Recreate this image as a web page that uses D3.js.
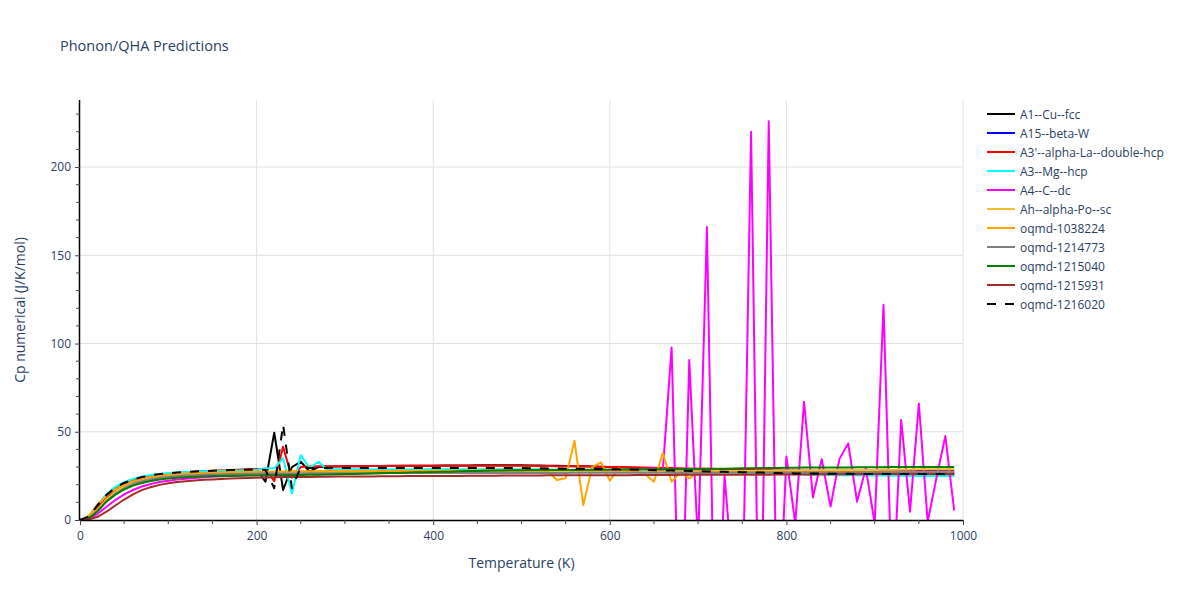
<!DOCTYPE html>
<html><head><meta charset="utf-8">
<script src="https://cdn.jsdelivr.net/npm/d3@7/dist/d3.min.js"></script>
<style>body{margin:0;background:#fff}svg{display:block}text{font-family:"Open Sans",verdana,arial,sans-serif}</style>
</head><body><svg id="c" width="1200" height="600"></svg>
<script>
const temperatures = d3.range(0, 1000, 10);
const seriesNames = ["A1--Cu--fcc","A15--beta-W","A3'--alpha-La--double-hcp","A3--Mg--hcp","A4--C--dc","Ah--alpha-Po--sc","oqmd-1038224","oqmd-1214773","oqmd-1215040","oqmd-1215931","oqmd-1216020"];
const xTicks = [0,200,400,600,800,1000];
const yTicks = [0,50,100,150,200];

const cpA1 = [0,1.6,7.2,13.3,17.6,20.4,22.3,23.7,24.7,25.4,
26.0,26.5,26.9,27.2,27.5,27.7,27.9,28.1,28.3,28.5,
28.7,21.7,49.5,17.0,30.0,33.0,27.4,30.0,30.2,30.3,
30.4,30.5,30.5,30.6,30.6,30.7,30.7,30.7,30.8,30.8,
30.8,30.9,30.9,30.9,30.9,31.0,31.0,31.0,31.0,31.0,
31.0,30.9,30.9,30.8,30.7,30.6,30.5,30.4,30.3,30.2,
30.0,29.9,29.7,29.6,29.4,29.3,29.2,29.0,28.9,28.8,
28.6,28.5,28.4,28.3,28.1,28.0,27.9,27.8,27.6,27.5,
27.4,27.3,27.2,27.1,27.0,27.0,26.9,26.8,26.8,26.7,
26.7,26.6,26.6,26.5,26.5,26.5,26.4,26.4,26.4,26.3];
const cpA15 = [0,1.2,5.6,11.0,15.3,18.3,20.5,22.0,23.1,23.9,
24.5,25.0,25.3,25.6,25.8,26.0,26.1,26.2,26.3,26.4,
26.4,26.5,26.5,26.6,26.6,26.7,26.7,26.7,26.8,26.8,
26.8,26.8,26.8,26.9,26.9,26.9,26.9,26.9,27.0,27.0,
27.0,27.0,27.0,27.0,27.1,27.1,27.1,27.1,27.1,27.2,
27.2,27.2,27.2,27.2,27.2,27.2,27.3,27.3,27.3,27.3,
27.3,27.3,27.3,27.3,27.3,27.4,27.4,27.4,27.4,27.4,
27.4,27.4,27.4,27.4,27.5,27.5,27.5,27.5,27.5,27.5,
27.5,27.5,27.5,27.5,27.6,27.6,27.6,27.6,27.6,27.6,
27.6,27.6,27.6,27.6,27.7,27.7,27.7,27.7,27.7,27.7];
const cpA3p = [0,1.5,7.0,13.0,17.2,20.0,22.0,23.5,24.6,25.4,
26.0,26.5,26.9,27.3,27.6,27.9,28.1,28.3,28.5,28.7,
28.8,29.0,22.0,41.5,24.0,30.0,30.3,30.4,30.4,30.5,
30.5,30.5,30.6,30.6,30.6,30.6,30.6,30.7,30.7,30.7,
30.7,30.7,30.7,30.7,30.7,30.7,30.7,30.7,30.7,30.7,
30.7,30.7,30.6,30.6,30.5,30.5,30.4,30.4,30.3,30.2,
30.1,30.0,29.9,29.8,29.7,29.6,29.5,29.4,29.3,29.2,
29.1,29.0,28.9,28.8,28.7,28.6,28.5,28.4,28.3,28.2,
28.1,28.0,28.0,27.9,27.9,27.8,27.8,27.7,27.7,27.7,
27.6,27.6,27.6,27.5,27.5,27.5,27.5,27.4,27.4,27.4];
const cpA3 = [0,2.1,8.7,14.6,18.8,21.5,23.3,24.6,25.5,26.1,
26.6,26.9,27.2,27.4,27.6,27.8,27.9,28.0,28.1,28.2,
28.3,29.3,29.3,35.0,15.0,36.8,29.4,33.0,28.5,28.8,
28.8,28.8,28.8,28.8,28.8,28.8,28.8,28.8,28.8,28.8,
28.8,28.8,28.8,28.8,28.8,28.8,28.8,28.8,28.7,28.7,
28.7,28.7,28.7,28.6,28.6,28.5,28.5,28.4,28.3,28.3,
28.2,28.1,28.0,27.9,27.8,27.7,27.6,27.5,27.4,27.3,
27.2,27.1,27.0,26.9,26.8,26.6,26.5,26.4,26.3,26.1,
26.0,25.9,25.8,25.7,25.6,25.5,25.4,25.4,25.3,25.3,
25.2,25.2,25.1,25.1,25.0,25.0,25.0,24.9,24.9,24.9];
const cpA4 = [0,0.8,3.5,7.5,11.3,14.5,17.0,19.0,20.4,21.5,
22.3,22.9,23.4,23.8,24.2,24.5,24.8,25.0,25.2,25.4,
25.6,25.8,26.0,26.2,26.4,26.6,26.8,27.0,27.1,27.2,
27.3,27.3,27.3,27.4,27.4,27.4,27.4,27.4,27.5,27.5,
27.5,27.5,27.5,27.5,27.5,27.5,27.5,27.5,27.5,27.5,
27.5,27.5,27.6,27.6,27.6,27.6,28.3,27.6,27.7,27.7,
27.7,27.8,27.8,28.5,29.0,29.3,27.8,97.8,-95,90.6,
-15,166,-110,25,-37,-60,220,-120,226,-80,
36,-2,67,12.8,34.5,7.6,34.5,43.4,10.4,29.3,
-2,122,-50,56.7,4.7,66,-1,24,47.6,5.3];
const cpAh = [0,1.3,6.0,11.6,15.6,18.6,20.6,22.0,23.1,23.9,
24.5,24.9,25.3,25.6,25.8,26.0,26.1,26.2,26.3,26.4,
26.5,26.5,26.6,26.6,26.6,26.7,26.7,26.7,26.7,26.8,
26.8,26.8,26.8,26.8,26.9,26.9,26.9,26.9,26.9,27.0,
27.0,27.0,27.0,27.0,27.0,27.0,27.1,27.1,27.1,27.1,
27.1,27.1,27.1,27.2,27.2,27.2,27.2,27.2,27.3,27.3,
27.3,27.3,27.3,27.4,27.4,27.4,27.5,27.5,27.5,27.6,
27.6,27.6,27.7,27.7,27.8,27.8,27.8,27.9,27.9,28.0,
28.0,28.0,28.1,28.1,28.2,28.2,28.3,28.3,28.4,28.4,
28.4,28.5,28.5,28.6,28.6,28.7,28.7,28.8,28.8,28.9];
const cp1038224 = [0,2.3,8.8,13.6,17.4,20.1,22.0,23.4,24.4,25.1,
25.6,26.0,26.3,26.5,26.7,26.9,27.0,27.1,27.2,27.3,
27.4,27.4,27.5,27.5,27.6,27.6,27.6,27.7,27.7,27.7,
27.8,27.8,27.8,27.8,27.8,27.8,27.9,27.9,27.9,27.9,
27.9,27.9,27.9,27.9,28.0,28.0,28.0,28.0,28.0,28.0,
28.0,28.0,27.9,27.6,22.7,23.6,44.9,8.5,30.0,32.7,
22.3,29.3,27.5,27.3,26.0,21.7,38.0,21.7,27.0,23.6,
27.0,27.0,27.0,27.0,27.0,27.0,27.0,27.0,27.0,27.0,
27.0,27.0,27.0,27.1,27.1,27.1,27.1,27.1,27.1,27.1,
27.1,27.2,27.2,27.2,27.2,27.2,27.2,27.2,27.3,27.3];
const cp1214773 = [0,1.0,5.2,10.6,14.8,18.0,20.3,21.9,23.0,23.8,
24.4,24.8,25.2,25.4,25.6,25.8,25.9,26.0,26.1,26.2,
26.2,26.3,26.3,26.4,26.4,26.4,26.5,26.5,26.5,26.5,
26.5,26.5,26.5,26.5,26.6,26.6,26.6,26.6,26.6,26.6,
26.6,26.6,26.6,26.6,26.7,26.7,26.7,26.7,26.7,26.7,
26.7,26.7,26.7,26.7,26.7,26.7,26.8,26.8,26.8,26.8,
26.8,26.8,26.8,26.8,26.8,26.8,26.8,26.8,26.8,26.8,
26.8,26.8,26.8,26.9,26.9,26.9,26.9,26.9,26.9,26.9,
26.9,26.9,26.9,26.9,26.9,26.9,26.9,26.9,27.0,27.0,
27.0,27.0,27.0,27.0,27.0,27.0,27.0,27.0,27.0,27.0];
const cp1215040 = [0,1.0,5.0,10.4,14.3,17.3,19.5,21.0,22.1,22.9,
23.5,23.9,24.2,24.5,24.7,24.9,25.0,25.1,25.1,25.2,
25.2,25.3,25.3,25.4,25.4,25.5,25.6,25.7,25.8,25.9,
26.0,26.1,26.2,26.4,26.5,26.6,26.7,26.8,27.0,27.1,
27.2,27.3,27.4,27.6,27.7,27.8,27.9,28.0,28.1,28.2,
28.2,28.3,28.3,28.3,28.4,28.4,28.4,28.5,28.5,28.5,
28.6,28.6,28.6,28.7,28.7,28.7,28.8,28.8,28.8,28.9,
29.0,29.0,29.1,29.1,29.2,29.3,29.3,29.4,29.5,29.5,
29.6,29.6,29.7,29.7,29.7,29.8,29.8,29.8,29.9,29.9,
29.9,29.9,30.0,30.0,30.0,30.0,30.1,30.1,30.1,30.1];
const cp1215931 = [0,0.3,1.8,4.7,8.2,11.6,14.5,16.9,18.6,19.9,
20.8,21.5,22.0,22.4,22.8,23.0,23.3,23.5,23.7,23.85,
24.0,24.1,24.2,24.3,24.3,24.4,24.4,24.5,24.5,24.6,
24.6,24.7,24.7,24.7,24.8,24.8,24.8,24.9,24.9,24.9,
25.0,25.0,25.0,25.0,25.1,25.1,25.1,25.1,25.2,25.2,
25.2,25.2,25.2,25.3,25.3,25.3,25.3,25.3,25.4,25.4,
25.4,25.4,25.4,25.5,25.5,25.5,25.5,25.5,25.6,25.6,
25.6,25.6,25.6,25.6,25.7,25.7,25.7,25.7,25.7,25.8,
25.8,25.8,25.8,25.8,25.9,25.9,25.9,25.9,25.9,26.0,
26.0,26.0,26.0,26.0,26.0,26.1,26.1,26.1,26.1,26.1];
const cp1216020 = [0,2.0,8.5,14.2,18.3,21.0,22.9,24.3,25.3,26.0,
26.5,26.9,27.2,27.5,27.7,27.9,28.1,28.3,28.4,28.5,
28.6,28.3,18.0,54.0,18.0,30.0,29.5,29.5,29.5,29.5,
29.5,29.5,29.5,29.5,29.5,29.5,29.5,29.5,29.5,29.5,
29.5,29.5,29.5,29.5,29.5,29.5,29.5,29.4,29.4,29.4,
29.4,29.3,29.3,29.2,29.2,29.1,29.1,29.0,29.0,28.9,
28.8,28.7,28.6,28.5,28.3,28.2,28.1,28.0,27.9,27.8,
27.6,27.5,27.4,27.3,27.2,27.1,27.0,26.9,26.8,26.6,
26.5,26.4,26.4,26.3,26.3,26.2,26.2,26.2,26.1,26.1,
26.1,26.1,26.0,26.0,26.0,26.0,26.0,26.0,25.9,25.9];

const seriesValues = [cpA1,cpA15,cpA3p,cpA3,cpA4,cpAh,cp1038224,cp1214773,cp1215040,cp1215931,cp1216020];
const seriesColors = ["black","blue","red","cyan","magenta","#f0c030","orange","gray","green","brown","black"];
const seriesDash = [null,null,null,null,null,null,null,null,null,null,"9,9"];

const svg = d3.select("#c");
const L = 80, R = 963, T = 100, B = 520;
const x = d3.scaleLinear().domain([0, 1000]).range([L, R]);
const y = d3.scaleLinear().domain([0, 238]).range([B, T]);
const txt = "#2a3f5f";

// grid
svg.append("g").selectAll("line").data(xTicks.filter(d => d > 0)).join("line")
  .attr("x1", d => x(d)).attr("x2", d => x(d)).attr("y1", T).attr("y2", B)
  .attr("stroke", "#e0e0e0").attr("stroke-width", 1);
svg.append("g").selectAll("line").data(yTicks.filter(d => d > 0)).join("line")
  .attr("x1", L).attr("x2", R).attr("y1", d => y(d)).attr("y2", d => y(d))
  .attr("stroke", "#e0e0e0").attr("stroke-width", 1);

svg.append("defs").append("clipPath").attr("id", "clip").append("rect")
  .attr("x", L).attr("y", T).attr("width", R - L).attr("height", B - T);

const line = d3.line().x((d, i) => x(temperatures[i])).y(d => y(d));
const gl = svg.append("g").attr("clip-path", "url(#clip)");
seriesValues.forEach((vals, k) => {
  gl.append("path").attr("d", line(vals)).attr("fill", "none")
    .attr("stroke", seriesColors[k]).attr("stroke-width", 2)
    .attr("stroke-linejoin", "round")
    .attr("stroke-dasharray", seriesDash[k]);
});

// axes
const xAxis = d3.axisBottom(x).tickValues(xTicks).tickSize(5).tickPadding(6).tickFormat(d3.format("d"));
const gx = svg.append("g").attr("transform", `translate(0,${B})`).call(xAxis);
const xMinor = d3.range(0, 1001, 50).filter(d => d % 200 !== 0);
gx.append("g").selectAll("line").data(xMinor).join("line")
  .attr("x1", d => x(d)).attr("x2", d => x(d)).attr("y1", 0).attr("y2", 4).attr("stroke", "#444");
const yAxis = d3.axisLeft(y).tickValues(yTicks).tickSize(5).tickPadding(4);
const gy = svg.append("g").attr("transform", `translate(${L},0)`).call(yAxis);
const yMinor = d3.range(0, 238, 10).filter(d => d % 50 !== 0);
gy.append("g").selectAll("line").data(yMinor).join("line")
  .attr("x1", 0).attr("x2", -4).attr("y1", d => y(d)).attr("y2", d => y(d)).attr("stroke", "#444");
[gx, gy].forEach(g => {
  g.select(".domain").attr("stroke", "black").attr("stroke-width", 1.5);
  g.selectAll(".tick line").attr("stroke", "#444");
  g.selectAll(".tick text").attr("fill", txt).attr("font-size", 12).attr("font-family", '"Open Sans",verdana,arial,sans-serif');
});
gx.select(".domain").attr("d", `M${L},0.5H${R}`);
gy.select(".domain").attr("d", `M-0.5,${B}V${T}`);

// titles
svg.append("text").attr("x", 60).attr("y", 51).attr("fill", txt).attr("font-size", 14.5).text("Phonon/QHA Predictions");
svg.append("text").attr("x", (L + R) / 2).attr("y", 568).attr("text-anchor", "middle").attr("fill", txt).attr("font-size", 14).text("Temperature (K)");
svg.append("text").attr("transform", `translate(25,${(T + B) / 2}) rotate(-90)`).attr("text-anchor", "middle").attr("fill", txt).attr("font-size", 14).text("Cp numerical (J/K/mol)");

// legend
const lg = svg.append("g");
seriesNames.forEach((n, k) => {
  const yy = 114 + k * 19;
  lg.append("line").attr("x1", 987).attr("x2", 1015).attr("y1", yy).attr("y2", yy)
    .attr("stroke", seriesColors[k]).attr("stroke-width", 2).attr("stroke-dasharray", seriesDash[k]);
  lg.append("text").attr("x", 1020).attr("y", yy + 4.5).attr("fill", txt).attr("font-size", 12).text(n);
});
</script></body></html>
